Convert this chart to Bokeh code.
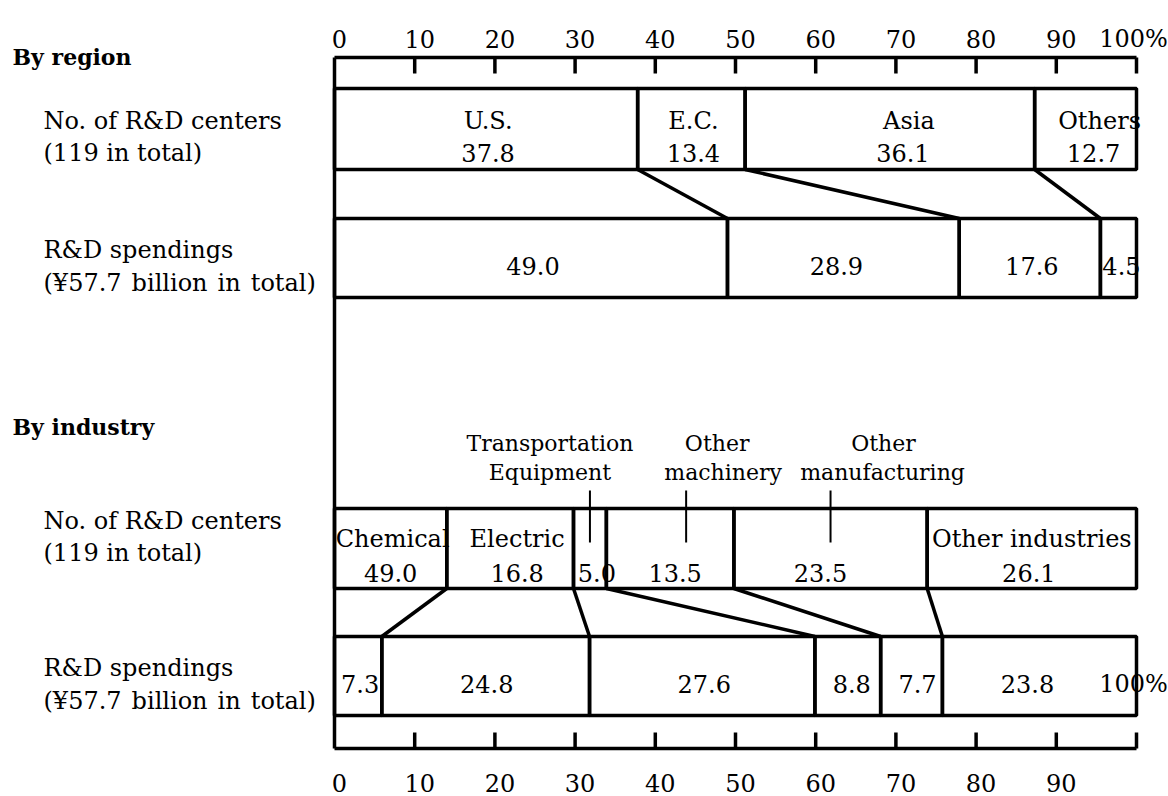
import numpy as np
from bokeh.plotting import figure
from bokeh.models import Range1d, ColumnDataSource
from bokeh.core.properties import value
from bokeh.embed import file_html
from bokeh.resources import INLINE

# ---------------- data ----------------
region_names = ["U.S.", "E.C.", "Asia", "Others"]
region_centers = [37.8, 13.4, 36.1, 12.7]          # % of R&D centers
region_spend = [49.0, 28.9, 17.6, 4.5]             # % of R&D spendings

industry_names = ["Chemical", "Electric", "", "", "", "Other industries"]
industry_center_labels = ["49.0", "16.8", "5.0", "13.5", "23.5", "26.1"]
industry_center_share = [14.0, 15.8, 4.1, 15.9, 24.1, 26.1]   # widths as drawn
industry_spend_labels = ["7.3", "24.8", "27.6", "8.8", "7.7", "23.8"]
industry_spend_share = [5.9, 25.9, 28.1, 8.2, 7.7, 24.2]       # widths as drawn

callout_line1 = ["Transportation", "Other", "Other"]
callout_line2 = ["Equipment", "machinery", "manufacturing"]
callout_segment = [2, 3, 4]

tick_values = [0, 10, 20, 30, 40, 50, 60, 70, 80, 90, 100]
top_tick_labels = ["0", "10", "20", "30", "40", "50", "60", "70", "80", "90", "100%"]
bottom_tick_labels = ["0", "10", "20", "30", "40", "50", "60", "70", "80", "90"]

row_titles = [("No. of R&D centers", "(119 in total)"),
              ("R&D spendings", "(\u00a557.7 \u200abillion \u200ain \u200atotal)")]

# ---------------- layout (pixels) ----------------
W, H = 1168, 796
X0, PX = 334.0, 8.02          # pixel of 0 %, pixels per 1 %
TOP_AXIS, BOT_AXIS, TICK = 57, 748, 16
ROWS = [(88, 169), (218, 297), (508, 588), (636, 715)]
FONT = value("DejaVu Serif")
FS = "24px"
LW = 3.5


def px(v):
    return (v - X0) / PX


p = figure(width=W, height=H, output_backend="svg", toolbar_location=None,
           x_range=Range1d(px(0), px(W)), y_range=Range1d(H, 0),
           x_axis_type=None, y_axis_type=None, min_border=0,
           background_fill_color="white", border_fill_color="white")
p.outline_line_color = None
p.grid.visible = False


def edges(widths):
    e = np.concatenate([[0.0], np.cumsum(widths)])
    return e[:-1], e[1:]


rows = [region_centers, region_spend, industry_center_share, industry_spend_share]
row_edges = [edges(w) for w in rows]

# white fills of the segments
for (l, r), (top, bot) in zip(row_edges, ROWS):
    p.quad(left=l, right=r, top=top, bottom=bot, fill_color="white", line_color=None)


def texts(x, y, t, xoff=None, size=FS, align="center", bold=False):
    n = len(t)
    src = ColumnDataSource(dict(x=list(x), y=list(y), t=list(t),
                                xo=list(xoff) if xoff is not None else [0] * n))
    p.text(x="x", y="y", text="t", x_offset="xo", source=src, text_font=FONT,
           text_font_size=size, text_align=align, text_baseline="alphabetic",
           text_color="black", text_font_style="bold" if bold else "normal")


def mids(e):
    return (e[0] + e[1]) / 2

# row 1: region centers
m = mids(row_edges[0]); t0 = ROWS[0][0]
texts(m, [t0 + 32] * 4, region_names, xoff=[2, 2, 19, 14])
texts(m, [t0 + 64] * 4, [f"{v:.1f}" for v in region_centers], xoff=[2, 2, 13, 8])
# row 2: region spendings
m = mids(row_edges[1]); c = (ROWS[1][0] + ROWS[1][1]) / 2 + 8
texts(m, [c] * 4, [f"{v:.1f}" for v in region_spend], xoff=[2, -7, 2, 3])
# row 3: industry centers
m = mids(row_edges[2]); t0 = ROWS[2][0]
texts(m, [t0 + 30] * 6, industry_names, xoff=[2, 7, 0, 0, 0, 0])
texts(m, [t0 + 64] * 6, industry_center_labels, xoff=[0, 7, 7, 5, -10, -3])
# row 4: industry spendings
m = mids(row_edges[3]); c = (ROWS[3][0] + ROWS[3][1]) / 2 + 8
texts(m, [c] * 6, industry_spend_labels, xoff=[2, 1, 2, 4, 6, -12])
texts([tick_values[-1]], [c], [top_tick_labels[-1]], xoff=[-3])

# outlines (drawn over the texts)
for (l, r), (top, bot) in zip(row_edges, ROWS):
    p.quad(left=l, right=r, top=top, bottom=bot, fill_color=None,
           line_color="black", line_width=LW)

# connectors between rows
for ua, la in [(0, 1), (2, 3)]:
    up = list(row_edges[ua][1][:-1])
    lo = list(row_edges[la][1][:-1])
    p.segment(x0=up, y0=[ROWS[ua][1]] * len(up), x1=lo, y1=[ROWS[la][0]] * len(lo),
              line_color="black", line_width=LW)

# axes frame
p.segment(x0=[0, 0, 0], y0=[TOP_AXIS, BOT_AXIS, TOP_AXIS],
          x1=[100, 100, 0], y1=[TOP_AXIS, BOT_AXIS, BOT_AXIS],
          line_color="black", line_width=LW)
tv = tick_values[1:]
p.segment(x0=tv, y0=[TOP_AXIS] * len(tv), x1=tv, y1=[TOP_AXIS + TICK] * len(tv),
          line_color="black", line_width=LW)
p.segment(x0=tv, y0=[BOT_AXIS] * len(tv), x1=tv, y1=[BOT_AXIS - TICK] * len(tv),
          line_color="black", line_width=LW)
texts(tick_values, [38] * len(tick_values), top_tick_labels,
      xoff=[5] * 10 + [-3])
texts(tick_values[:-1], [782] * len(bottom_tick_labels), bottom_tick_labels,
      xoff=[5] * 10)

# callouts
ce = row_edges[2]
cx = [(ce[0][i] + ce[1][i]) / 2 for i in callout_segment]
lead_off = [0, 16, 0]
cx = [x + o / PX for x, o in zip(cx, lead_off)]
p.segment(x0=cx, y0=[490] * 3, x1=cx, y1=[542] * 3, line_color="black", line_width=2)
texts(cx, [443] * 3, callout_line1, xoff=[-40, 31, 53], size="22px")
texts(cx, [472] * 3, callout_line2, xoff=[-40, 37, 52], size="22px")

# headings and row titles
texts([px(12)], [56], ["By region"], size="22px", align="left", bold=True)
texts([px(12)], [426], ["By industry"], size="22px", align="left", bold=True)
title_base = [(120, 152), (249, 282), (520, 552), (667, 700)]
for i, (b1, b2) in enumerate(title_base):
    a, b = row_titles[i % 2]
    texts([px(43)], [b1], [a], align="left")
    texts([px(43)], [b2], [b], align="left")

open("out.html", "w").write(file_html(p, INLINE))
